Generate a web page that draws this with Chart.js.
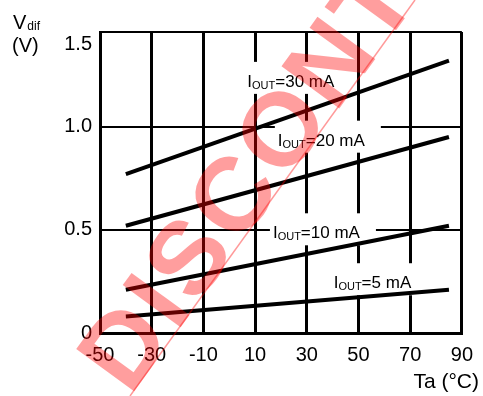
<!DOCTYPE html>
<html>
<head>
<meta charset="utf-8">
<script src="https://cdn.jsdelivr.net/npm/chart.js@4.4.0/dist/chart.umd.min.js"></script>
<style>
  html, body { margin: 0; padding: 0; background: #fff; }
  #wrap { width: 483px; height: 396px; }
</style>
</head>
<body>
<div id="wrap"><canvas id="chart" width="483" height="396"></canvas></div>
<script>
// ambient temperature (deg C) at the two ends of each curve
const temps = [-40, 85];
// Vdif (V) for each output current
const iout30 = [0.77, 1.32];
const iout20 = [0.52, 0.95];
const iout10 = [0.21, 0.52];
const iout5 = [0.08, 0.21];

const xTicks = [-50, -30, -10, 10, 30, 50, 70, 90];
const yTicks = [0, 0.5, 1.0, 1.459]; // top frame sits a little under 1.5
const yTickLabels = ["0", "0.5", "1.0", "1.5"];

// curve labels: text after "I_OUT", left edge (deg C) and baseline (V)
const labelText = ["=30 mA", "=20 mA", "=10 mA", "=5 mA"];
const labelX = [7.0, 18.8, 16.9, 40.4];
const labelY = [1.193, 0.908, 0.459, 0.217];

const FONT = '"Liberation Sans", Arial, Helvetica, sans-serif';

const toPoints = (vals) => temps.map((t, i) => ({ x: t, y: vals[i] }));

const series = (vals) => ({
  data: toPoints(vals),
  borderColor: "#000",
  borderWidth: 4,
  pointRadius: 0,
  tension: 0,
  fill: false,
});

// white boxes + I_OUT labels, drawn over the grid but under the curves
const curveLabels = {
  id: "curveLabels",
  beforeDatasetsDraw(chart) {
    const { ctx, scales } = chart;
    ctx.save();
    labelText.forEach((txt, i) => {
      const x = scales.x.getPixelForValue(labelX[i]);
      const y = scales.y.getPixelForValue(labelY[i]);
      ctx.fillStyle = "#fff";
      ctx.fillRect(x - 3, y - 25, 106, 32);
      ctx.fillStyle = "#000";
      ctx.textBaseline = "alphabetic";
      ctx.textAlign = "left";
      ctx.font = "17px " + FONT;
      ctx.fillText("I", x, y);
      let cx = x + ctx.measureText("I").width;
      ctx.font = "11px " + FONT;
      ctx.fillText("OUT", cx, y + 2);
      cx += ctx.measureText("OUT").width;
      ctx.font = "17px " + FONT;
      ctx.fillText(txt, cx, y);
    });
    ctx.restore();
  },
};

// axis titles and the red watermark
const decorations = {
  id: "decorations",
  afterDraw(chart) {
    const { ctx, height } = chart;
    ctx.save();
    ctx.fillStyle = "#000";
    ctx.textBaseline = "alphabetic";
    ctx.textAlign = "left";
    ctx.font = "20px " + FONT;
    ctx.fillText("V", 13, 29);
    const vw = ctx.measureText("V").width;
    ctx.font = "12px " + FONT;
    ctx.fillText("dif", 13 + vw + 1, 30);
    ctx.font = "20px " + FONT;
    ctx.fillText("(V)", 12, 52);
    ctx.textAlign = "right";
    ctx.font = "21px " + FONT;
    ctx.fillText("Ta (\u00b0C)", 479, 388);

    ctx.fillStyle = "rgba(255, 0, 0, 0.38)";
    ctx.translate(100, 375);
    ctx.rotate((-54 * Math.PI) / 180);
    ctx.textAlign = "left";
    ctx.font = "bold 104px " + FONT;
    ctx.letterSpacing = "4px";
    ctx.fillText("DISCONTINUED", 0, 37);
    ctx.restore();

    ctx.save();
    ctx.strokeStyle = "rgba(255, 0, 0, 0.4)";
    ctx.lineWidth = 1.5;
    ctx.beginPath();
    ctx.moveTo(130, height);
    ctx.lineTo(415, 0);
    ctx.stroke();
    ctx.restore();
  },
};

new Chart(document.getElementById("chart"), {
  type: "line",
  data: {
    datasets: [series(iout30), series(iout20), series(iout10), series(iout5)],
  },
  options: {
    responsive: false,
    animation: false,
    layout: { padding: { left: 0, right: 19, top: 31, bottom: 0 } },
    plugins: {
      legend: { display: false },
      tooltip: { enabled: false },
    },
    scales: {
      x: {
        type: "linear",
        min: -50,
        max: 90,
        afterBuildTicks: (scale) => {
          scale.ticks = xTicks.map((v) => ({ value: v }));
        },
        afterFit: (scale) => {
          scale.height = 63;
        },
        grid: { color: "#000", lineWidth: 3, drawTicks: false },
        border: { display: true, color: "#000", width: 3 },
        ticks: {
          color: "#000",
          padding: 10,
          font: { family: FONT, size: 20 },
          maxRotation: 0,
        },
      },
      y: {
        type: "linear",
        min: 0,
        max: 1.459,
        afterBuildTicks: (scale) => {
          scale.ticks = yTicks.map((v) => ({ value: v }));
        },
        afterFit: (scale) => {
          scale.width = 100;
        },
        grid: { color: "#000", lineWidth: 2, drawTicks: false },
        border: { display: true, color: "#000", width: 3 },
        ticks: {
          color: "#000",
          padding: 8,
          font: { family: FONT, size: 20 },
          callback: (v, i) => (i === yTicks.length - 1 ? ["", yTickLabels[i]] : yTickLabels[i]),
        },
      },
    },
  },
  plugins: [curveLabels, decorations],
});
</script>
</body>
</html>
